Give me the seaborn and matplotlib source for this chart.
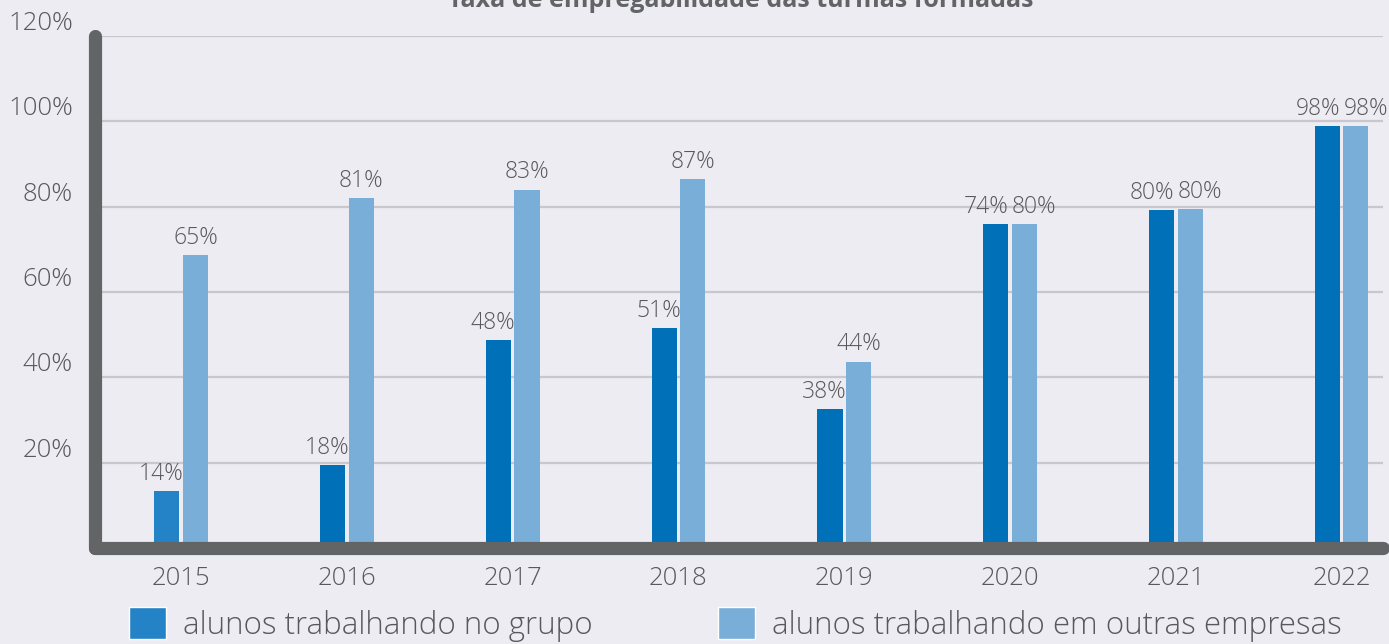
import numpy as np
import pandas as pd
import matplotlib.pyplot as plt
import seaborn as sns
from matplotlib.patches import Patch

# valores
anos = ["2015", "2016", "2017", "2018", "2019", "2020", "2021", "2022"]
grupo = [13.3, 19.4, 48.7, 51.5, 32.5, 75.9, 79.2, 98.8]
outras = [68.6, 82.0, 84.0, 86.4, 43.6, 75.9, 79.4, 98.8]
rot_grupo = ["14%", "18%", "48%", "51%", "38%", "74%", "80%", "98%"]
rot_outras = ["65%", "81%", "83%", "87%", "44%", "80%", "80%", "98%"]
serie_grupo = "alunos trabalhando no grupo"
serie_outras = "alunos trabalhando em outras empresas"
yticks = [20, 40, 60, 80, 100, 120]

bg = "#edecf2"
dark = "#0070b8"
dark15 = "#2383c6"
light = "#78aed8"
grey = "#636466"
txt = "#58595b"
fam = ['Open Sans', 'DejaVu Sans']

sns.set_theme(style="whitegrid")
plt.rcParams['font.family'] = fam

df = pd.DataFrame({
    "ano": anos * 2,
    "valor": grupo + outras,
    "serie": [serie_grupo] * len(anos) + [serie_outras] * len(anos),
})

fig = plt.figure(figsize=(13.89, 6.44), dpi=100, facecolor=bg)
ax = fig.add_axes([95 / 1389, 1 - 548 / 644, (1383 - 95) / 1389, (548 - 36) / 644])
ax.set_facecolor(bg)

sns.barplot(data=df, x="ano", y="valor", hue="serie", ax=ax,
            palette=[dark, light], saturation=1, width=0.345, gap=0.12,
            legend=False, linewidth=0, zorder=2)

# 2015 tem um azul um pouco diferente
ax.containers[0].patches[0].set_facecolor(dark15)

# rotulos (afastados quando as duas barras tem a mesma altura)
for pg, po, lg, lo in zip(ax.containers[0].patches, ax.containers[1].patches,
                          rot_grupo, rot_outras):
    junto = abs(pg.get_height() - po.get_height()) < 3
    dx_g, dx_o = (-7, 7) if junto else (-4, 0)
    for p, lab, dx in [(pg, lg, dx_g), (po, lo, dx_o)]:
        ax.annotate(lab, (p.get_x() + p.get_width() / 2, p.get_height()),
                    xytext=(dx, 4), textcoords='offset points',
                    ha='center', va='bottom', fontsize=16.5, color=txt,
                    fontweight='light')

ax.set_ylim(0, 120)
ax.set_xlim(-0.52, 7.25)
ax.set_yticks(yticks)
ax.set_yticklabels([f"{v}%" for v in yticks])
for lab in ax.get_yticklabels():
    lab.set_verticalalignment('bottom')
    lab.set_fontweight('light')
for lab in ax.get_xticklabels():
    lab.set_fontweight('light')
ax.tick_params(axis='y', length=0, pad=16, labelsize=18.5, labelcolor=txt)
ax.tick_params(axis='x', length=0, pad=13, labelsize=18.5, labelcolor=txt)
ax.set_xlabel("")
ax.set_ylabel("")

ax.grid(axis='x', visible=False)
ax.grid(axis='y', color="#c8c7cc", linewidth=1.6)
ax.set_axisbelow(True)

for s in ["top", "right"]:
    ax.spines[s].set_visible(False)
for s in ["left", "bottom"]:
    ax.spines[s].set_visible(True)
    ax.spines[s].set_color(grey)
    ax.spines[s].set_linewidth(9.5)
    ax.spines[s].set_capstyle('round')
    ax.spines[s].set_zorder(5)

fig.text(741 / 1389, 1 - 7 / 644, "Taxa de empregabilidade das turmas formadas",
         ha='center', va='baseline', fontsize=18, fontweight='bold', color=grey)

handles = [Patch(facecolor=dark15), Patch(facecolor=light)]
fig.legend(handles, [serie_grupo, serie_outras], loc='lower left',
           bbox_to_anchor=(116 / 1389, -0.016), ncol=2, frameon=False,
           labelcolor=txt, handlelength=1.2, handleheight=1.2,
           handletextpad=0.55, columnspacing=4.0, borderaxespad=0,
           prop={'family': fam, 'weight': 'light', 'size': 22.5})

fig.savefig("out.png", dpi=100, facecolor=bg)
